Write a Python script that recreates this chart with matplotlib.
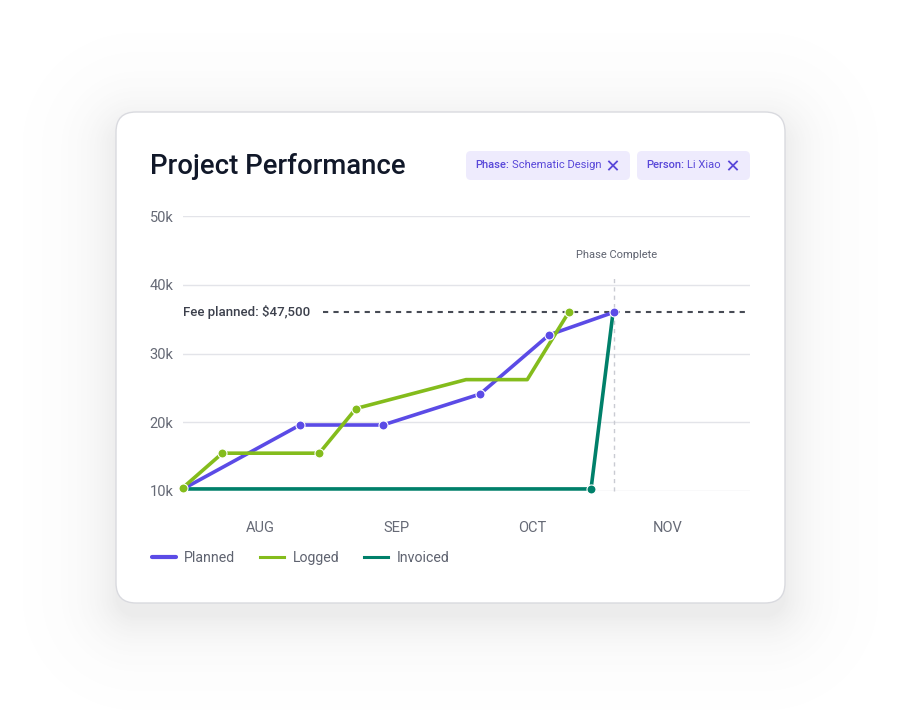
import numpy as np
import matplotlib
matplotlib.use("Agg")
import matplotlib.pyplot as plt
from matplotlib.patches import FancyBboxPatch
from matplotlib.lines import Line2D

plt.rcParams["font.family"] = ["Roboto", "DejaVu Sans"]

# Data (x in months, 0 = AUG label; y in thousands)
months = ["AUG", "SEP", "OCT", "NOV"]
y_ticks = [10, 20, 30, 40, 50]
y_tick_labels = ["10k", "20k", "30k", "40k", "50k"]

planned_x = [-0.566, 0.294, 0.904, 1.618, 2.125, 2.601]
planned_y = [10.3, 19.6, 19.6, 24.1, 32.7, 36.0]

logged_x = [-0.566, -0.277, 0.436, 0.706, 1.515, 1.965, 2.270]
logged_y = [10.5, 15.5, 15.5, 22.0, 26.2, 26.2, 36.0]
logged_marks = [0, 1, 2, 3, 6]

invoiced_x = [-0.566, 2.434, 2.596]
invoiced_y = [10.3, 10.3, 36.0]
invoiced_marks = [1]

fee_level = 36.0
fee_start = 0.463
phase_complete_x = 2.603

BLUE = "#5B4BE6"
GREEN = "#84BC1C"
TEAL = "#00806A"
GRAY_TXT = "#666A76"

W, H = 901, 723
fig = plt.figure(figsize=(W / 100, H / 100), dpi=100)
fig.patch.set_facecolor("white")

# background axes in pixel coords
bg = fig.add_axes([0, 0, 1, 1])
bg.set_xlim(0, W)
bg.set_ylim(H, 0)
bg.axis("off")

# soft shadow around the card
cx0, cy0, cx1, cy1 = 116, 112, 785, 603
xx, yy = np.meshgrid(np.arange(W) + 0.5, np.arange(H) + 0.5)
c = np.array([(cx0 + cx1) / 2, (cy0 + cy1) / 2 + 14])
b = np.array([(cx1 - cx0) / 2, (cy1 - cy0) / 2])
r = 20
qx = np.abs(xx - c[0]) - (b[0] - r)
qy = np.abs(yy - c[1]) - (b[1] - r)
d = np.hypot(np.maximum(qx, 0), np.maximum(qy, 0)) + np.minimum(np.maximum(qx, qy), 0) - r
alpha = 0.11 * np.exp(-np.maximum(d, 0) / 28.0)
shadow = np.zeros((H, W, 4))
shadow[..., :3] = 0.35
shadow[..., 3] = alpha
bg.imshow(shadow, extent=(0, W, H, 0), interpolation="bilinear", zorder=0)

card = FancyBboxPatch((cx0, cy0), cx1 - cx0, cy1 - cy0,
                      boxstyle="round,pad=0,rounding_size=20",
                      fc="white", ec="#D9DADF", lw=1, zorder=1)
bg.add_patch(card)

# title
bg.text(150, 166, "Project Performance", fontsize=19.8, fontweight="medium",
        color="#111829", ha="left", va="center", zorder=3)

# filter chips
renderer = fig.canvas.get_renderer()


def chip(x0, x1, label, value):
    bg.add_patch(FancyBboxPatch((x0, 151), x1 - x0, 29,
                                boxstyle="round,pad=0,rounding_size=5",
                                fc="#EEEBFD", ec="none", zorder=2))
    t = bg.text(x0 + 9, 165.5, label, fontsize=8, fontweight="medium",
                color="#5847D9", ha="left", va="center", zorder=3)
    bb = t.get_window_extent(renderer)
    bg.text(x0 + 9 + bb.width + 3, 165.5, value, fontsize=8,
            color="#5847D9", ha="left", va="center", zorder=3)
    xc = x1 - 17
    s = 4
    bg.plot([xc - s, xc + s], [165.5 - s, 165.5 + s], color="#5847D9", lw=1.3, zorder=3)
    bg.plot([xc - s, xc + s], [165.5 + s, 165.5 - s], color="#5847D9", lw=1.3, zorder=3)


chip(466, 630, "Phase:", "Schematic Design")
chip(637, 750, "Person:", "Li Xiao")

# chart axes
ax = fig.add_axes([183 / W, 1 - 491 / H, (750 - 183) / W, (491 - 216) / H])
ax.set_facecolor("none")
ax.set_zorder(2)
ax.set_xlim((183 - 260) / 136, (750 - 260) / 136)
ax.set_ylim(10, 50)
for s in ax.spines.values():
    s.set_visible(False)
ax.set_yticks(y_ticks, y_tick_labels)
ax.set_xticks(range(len(months)), months)
ax.tick_params(axis="y", length=0, pad=7, labelsize=10.5, labelcolor=GRAY_TXT)
ax.tick_params(axis="x", length=0, pad=21.5, labelsize=10.5, labelcolor=GRAY_TXT)
ax.grid(axis="y", color="#E3E4E9", lw=1)
ax.set_axisbelow(True)

# fee planned line
ax.plot([fee_start, ax.get_xlim()[1]], [fee_level, fee_level], color="#474B55",
        lw=1.5, dashes=(2.5, 2.5), zorder=2)
ax.text(ax.get_xlim()[0], fee_level, "Fee planned: $47,500", fontsize=9.5,
        fontweight="medium", color="#3C404C", ha="left", va="center")

# phase complete marker
ax.plot([phase_complete_x, phase_complete_x], [10, 41.4], color="#C9CBD2",
        lw=1, dashes=(3, 3), zorder=1, clip_on=False)
ax.text(phase_complete_x + 0.02, 44.4, "Phase Complete", fontsize=8,
        color="#5F6370", ha="center", va="center")

lw = 2.6
ax.plot(invoiced_x, invoiced_y, color=TEAL, lw=lw, zorder=3, clip_on=False,
        solid_capstyle="round")
ax.plot(planned_x, planned_y, color=BLUE, lw=lw, zorder=4, clip_on=False,
        solid_capstyle="round")
ax.plot(logged_x, logged_y, color=GREEN, lw=lw, zorder=5, clip_on=False,
        solid_capstyle="round")

ms = 6.5
ax.plot([invoiced_x[i] for i in invoiced_marks], [invoiced_y[i] for i in invoiced_marks],
        "o", color=TEAL, ms=ms, mec="white", mew=0.8, zorder=6, clip_on=False)
ax.plot(planned_x[1:], planned_y[1:], "o", color=BLUE, ms=ms, mec="white",
        mew=0.8, zorder=6, clip_on=False)
ax.plot([logged_x[i] for i in logged_marks], [logged_y[i] for i in logged_marks],
        "o", color=GREEN, ms=ms, mec="white", mew=0.8, zorder=6, clip_on=False)

# legend
handles = [Line2D([], [], color=BLUE, lw=3, solid_capstyle="round"),
           Line2D([], [], color=GREEN, lw=2.2),
           Line2D([], [], color=TEAL, lw=2.2)]
fig.legend(handles, ["Planned", "Logged", "Invoiced"], loc="center left",
           bbox_to_anchor=(139 / W, 1 - 558 / H), ncol=3, frameon=False,
           fontsize=10.2, labelcolor="#5F6370", handlelength=1.7,
           handletextpad=0.6, columnspacing=1.75)

fig.savefig("out.png", dpi=100)
